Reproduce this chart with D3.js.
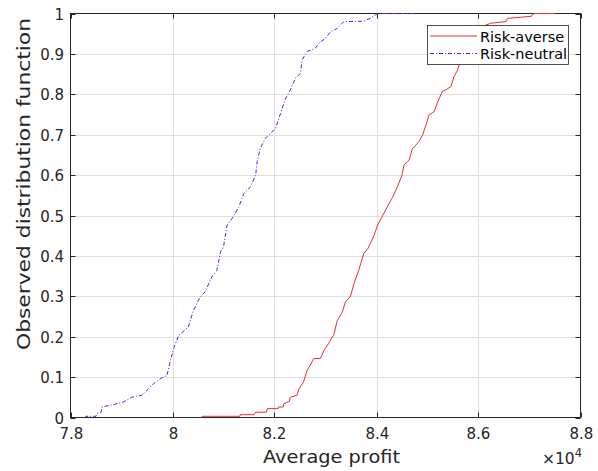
<!DOCTYPE html>
<html>
<head>
<meta charset="utf-8">
<script src="https://cdn.jsdelivr.net/npm/d3@7"></script>
<style>
  body { margin: 0; background: #fff; }
  svg { font-family: "DejaVu Sans", sans-serif; }
</style>
</head>
<body>
<div id="chart"></div>
<script>
// average profit (x 10^4) and observed CDF
var averseProfit = [8.057, 8.058, 8.132, 8.133, 8.160, 8.163, 8.184, 8.186, 8.207, 8.208, 8.217, 8.218,
  8.229, 8.231, 8.244, 8.248, 8.257, 8.264, 8.270, 8.277, 8.290, 8.297, 8.306, 8.313, 8.316, 8.323,
  8.333, 8.339, 8.349, 8.356, 8.365, 8.369, 8.375, 8.383, 8.395, 8.402, 8.411, 8.421, 8.431, 8.441,
  8.450, 8.454, 8.464, 8.470, 8.477, 8.483, 8.490, 8.497, 8.503, 8.513, 8.519, 8.529, 8.536, 8.546,
  8.552, 8.559, 8.565, 8.577, 8.589, 8.601, 8.612, 8.624, 8.654, 8.657, 8.703, 8.709, 8.749];
var averseCdf = [0, 0.003, 0.003, 0.007, 0.007, 0.013, 0.013, 0.022, 0.022, 0.026, 0.026, 0.034,
  0.040, 0.050, 0.055, 0.071, 0.088, 0.117, 0.129, 0.146, 0.146, 0.166, 0.183, 0.199, 0.203, 0.240,
  0.261, 0.286, 0.300, 0.332, 0.364, 0.381, 0.406, 0.418, 0.450, 0.476, 0.497, 0.521, 0.544, 0.571,
  0.600, 0.625, 0.637, 0.664, 0.674, 0.683, 0.698, 0.724, 0.749, 0.757, 0.778, 0.807, 0.811, 0.819,
  0.844, 0.860, 0.885, 0.910, 0.935, 0.955, 0.970, 0.976, 0.980, 0.988, 0.993, 1.0, 1.0];

var neutralProfit = [7.828, 7.830, 7.850, 7.852, 7.860, 7.862, 7.884, 7.903, 7.920, 7.940, 7.953,
  7.963, 7.976, 7.989, 7.996, 8.003, 8.012, 8.031, 8.041, 8.054, 8.064, 8.077, 8.087, 8.094, 8.100,
  8.107, 8.117, 8.130, 8.140, 8.153, 8.163, 8.166, 8.172, 8.182, 8.192, 8.202, 8.212, 8.221, 8.231,
  8.241, 8.251, 8.254, 8.264, 8.280, 8.287, 8.300, 8.310, 8.323, 8.336, 8.375, 8.388, 8.398, 8.402, 8.473];
var neutralCdf = [0, 0.003, 0.003, 0.010, 0.013, 0.026, 0.032, 0.038, 0.050, 0.055, 0.071,
  0.084, 0.096, 0.104, 0.141, 0.174, 0.203, 0.224, 0.265, 0.298, 0.311, 0.348, 0.364, 0.410, 0.422,
  0.476, 0.493, 0.521, 0.555, 0.571, 0.600, 0.633, 0.666, 0.691, 0.703, 0.716, 0.753, 0.788, 0.811,
  0.840, 0.852, 0.885, 0.906, 0.914, 0.926, 0.939, 0.955, 0.963, 0.980, 0.981, 0.988, 0.997, 1.0, 1.0];

var seriesNames = ["Risk-averse", "Risk-neutral"];
var xTicks = [7.8, 8, 8.2, 8.4, 8.6, 8.8];
var yTicks = [0, 0.1, 0.2, 0.3, 0.4, 0.5, 0.6, 0.7, 0.8, 0.9, 1];

function drawChart() {
    var W = 598, H = 471;
    var pLeft = 70.5, pRight = 580.5, pTop = 13.5, pBottom = 417.5;
    var axisColor = "#262626";
    var red = "#e53030", blue = "#3030dd";

    var svg = d3.select("#chart").append("svg")
        .attr("width", W).attr("height", H);

    var x = d3.scaleLinear().domain([7.8, 8.8]).range([pLeft, pRight]);
    var y = d3.scaleLinear().domain([0, 1]).range([pBottom, pTop]);

    // grid
    svg.append("g").selectAll("line").data(xTicks.slice(1, -1)).enter().append("line")
        .attr("x1", d => Math.round(x(d)) + 0.5).attr("x2", d => Math.round(x(d)) + 0.5)
        .attr("y1", pTop).attr("y2", pBottom)
        .attr("stroke", "#dedede").attr("stroke-width", 1);
    svg.append("g").selectAll("line").data(yTicks.slice(1, -1)).enter().append("line")
        .attr("y1", d => Math.round(y(d)) + 0.5).attr("y2", d => Math.round(y(d)) + 0.5)
        .attr("x1", pLeft).attr("x2", pRight)
        .attr("stroke", "#dedede").attr("stroke-width", 1);

    // box + inward ticks
    svg.append("rect")
        .attr("x", pLeft).attr("y", pTop)
        .attr("width", pRight - pLeft).attr("height", pBottom - pTop)
        .attr("fill", "none").attr("stroke", axisColor).attr("stroke-width", 1);

    var tk = 5;
    xTicks.forEach(function(d) {
        var px = Math.round(x(d)) + 0.5;
        svg.append("line").attr("x1", px).attr("x2", px).attr("y1", pBottom).attr("y2", pBottom - tk)
            .attr("stroke", axisColor);
        svg.append("line").attr("x1", px).attr("x2", px).attr("y1", pTop).attr("y2", pTop + tk)
            .attr("stroke", axisColor);
        svg.append("text").attr("x", px).attr("y", 439)
            .attr("text-anchor", "middle").style("font-size", "15px").attr("fill", axisColor)
            .text(d3.format("~g")(d));
    });
    yTicks.forEach(function(d) {
        var py = Math.round(y(d)) + 0.5;
        svg.append("line").attr("x1", pLeft).attr("x2", pLeft + tk).attr("y1", py).attr("y2", py)
            .attr("stroke", axisColor);
        svg.append("line").attr("x1", pRight).attr("x2", pRight - tk).attr("y1", py).attr("y2", py)
            .attr("stroke", axisColor);
        svg.append("text").attr("x", 64).attr("y", py + 5.5)
            .attr("text-anchor", "end").style("font-size", "15px").attr("fill", axisColor)
            .text(d3.format("~g")(d));
    });

    // curves (drawn over the box, as in the original)
    var line = d3.line().x(d => x(d[0])).y(d => y(d[1]));
    var averse = d3.zip(averseProfit, averseCdf);
    var neutral = d3.zip(neutralProfit, neutralCdf);

    svg.append("path").datum(averse)
        .attr("d", line).attr("fill", "none")
        .attr("stroke", red).attr("stroke-width", 1);
    svg.append("path").datum(neutral)
        .attr("d", line).attr("fill", "none")
        .attr("stroke", blue).attr("stroke-width", 1)
        .attr("stroke-dasharray", "4,2,1,2");

    // exponent
    var ex = svg.append("text").attr("x", 582).attr("y", 464)
        .attr("text-anchor", "end").style("font-size", "15.5px").attr("fill", axisColor);
    ex.append("tspan").text("\u00d710");
    ex.append("tspan").attr("dy", -7).style("font-size", "11.5px").text("4");

    // axis labels
    svg.append("text")
        .attr("x", 263).attr("y", 463)
        .attr("textLength", 137).attr("lengthAdjust", "spacingAndGlyphs")
        .style("font-size", "18px").attr("fill", axisColor)
        .text("Average profit");
    svg.append("text")
        .attr("transform", "translate(30,350) rotate(-90)")
        .attr("textLength", 332).attr("lengthAdjust", "spacingAndGlyphs")
        .style("font-size", "18px").attr("fill", axisColor)
        .text("Observed distribution function");

    // legend
    var lg = svg.append("g");
    lg.append("rect").attr("x", 427.5).attr("y", 25.5).attr("width", 141).attr("height", 39)
        .attr("fill", "#fff").attr("stroke", axisColor).attr("stroke-width", 0.8);
    var lgColors = [red, blue];
    var lgDash = ["none", "4,2,1,2"];
    seriesNames.forEach(function(name, i) {
        var ly = 36 + i * 17.5;
        lg.append("line").attr("x1", 430).attr("x2", 477).attr("y1", ly).attr("y2", ly)
            .attr("stroke", lgColors[i]).attr("stroke-width", 1)
            .attr("stroke-dasharray", lgDash[i]);
        lg.append("text").attr("x", 480).attr("y", ly + 5.5)
            .style("font-size", "14.5px").attr("fill", "#000").text(name);
    });
}

drawChart();
</script>
</body>
</html>
